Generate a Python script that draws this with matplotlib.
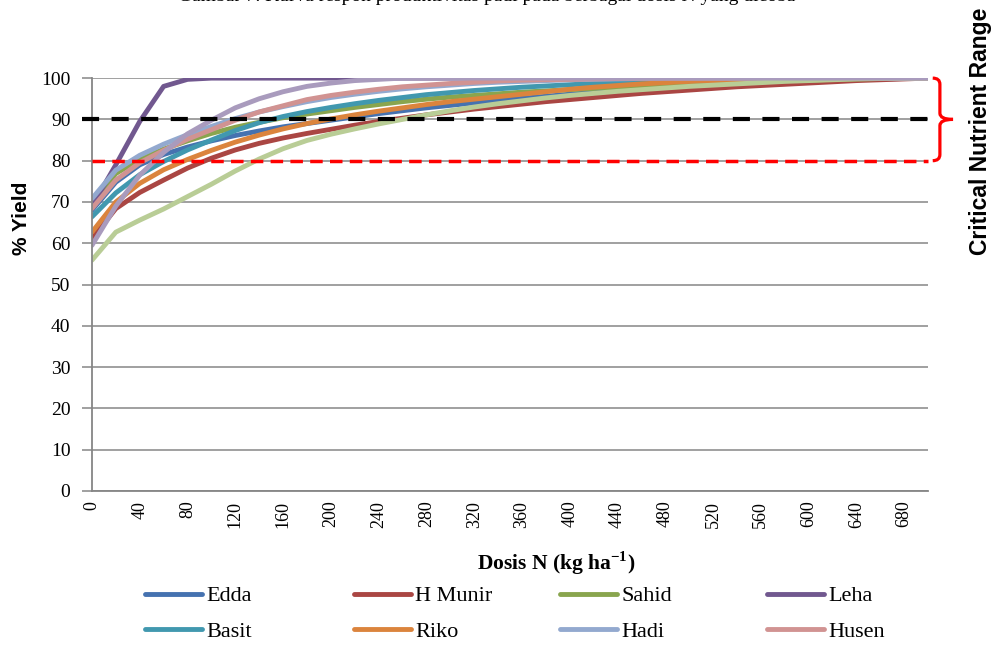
import numpy as np
import matplotlib.pyplot as plt
from matplotlib.path import Path
from matplotlib.patches import PathPatch

# dosis N (kg/ha), category axis every 20
dosis = np.arange(0, 701, 20)

edda = [68.0, 74.8, 79.0, 81.5, 83.3, 84.8, 86.1, 87.2, 88.2, 89.0, 89.8, 90.6,
        91.4, 92.1, 92.8, 93.4, 94.0, 94.6, 95.1, 95.6, 96.1, 96.5, 96.9, 97.3,
        97.6, 97.9, 98.2, 98.5, 98.8, 99.0, 99.3, 99.5, 99.7, 99.8, 99.9, 100]
h_munir = [61.1, 68.4, 72.3, 75.3, 78.2, 80.6, 82.6, 84.2, 85.5, 86.6, 87.6, 88.6,
           89.5, 90.3, 91.1, 91.8, 92.5, 93.1, 93.7, 94.3, 94.8, 95.3, 95.8, 96.3,
           96.7, 97.1, 97.5, 97.9, 98.2, 98.5, 98.8, 99.1, 99.4, 99.6, 99.8, 100]
sahid = [69.5, 76.9, 80.3, 82.8, 84.8, 86.6, 88.1, 89.3, 90.4, 91.3, 92.1, 92.9,
         93.6, 94.3, 94.9, 95.4, 95.8, 96.2, 96.6, 96.9, 97.2, 97.5, 97.8, 98.1,
         98.3, 98.5, 98.8, 99.0, 99.2, 99.4, 99.5, 99.7, 99.8, 99.9, 100, 100]
leha = [69.0, 79.0, 89.5, 98.0, 99.7] + [100] * 31
basit = [66.4, 72.2, 76.6, 79.8, 82.6, 85.0, 87.3, 89.2, 90.7, 91.9, 92.9, 93.8,
         94.6, 95.3, 96.0, 96.5, 97.0, 97.4, 97.8, 98.1, 98.4, 98.7, 99.0, 99.2,
         99.4, 99.5, 99.6, 99.7, 99.8, 99.9] + [100] * 6
riko = [62.7, 70.0, 74.5, 77.8, 80.3, 82.5, 84.5, 86.2, 87.7, 89.0, 90.1, 91.1,
        92.0, 92.8, 93.6, 94.3, 94.9, 95.5, 96.1, 96.7, 97.3, 97.8, 98.2, 98.6,
        98.9, 99.2, 99.4, 99.6, 99.7, 99.8, 99.9] + [100] * 5
hadi = [70.8, 77.7, 81.3, 84.0, 86.3, 88.3, 90.2, 91.8, 93.1, 94.3, 95.3, 96.1,
        96.8, 97.4, 97.9, 98.3, 98.7, 99.0, 99.2, 99.4, 99.6, 99.7, 99.8, 99.9] + [100] * 12
husen = [68.4, 75.3, 79.5, 82.5, 85.2, 87.5, 89.8, 91.8, 93.3, 94.8, 95.8, 96.6,
         97.3, 97.9, 98.3, 98.7, 99.0, 99.3, 99.5, 99.6, 99.7, 99.8, 99.9] + [100] * 13
seri9 = [55.9, 62.7, 65.6, 68.3, 71.3, 74.3, 77.5, 80.4, 82.9, 84.9, 86.4, 87.7,
         88.9, 90.0, 91.1, 92.1, 93.0, 93.8, 94.5, 95.2, 95.8, 96.3, 96.8, 97.2,
         97.6, 98.0, 98.3, 98.6, 98.9, 99.2, 99.4, 99.6, 99.8, 99.9, 100, 100]
seri10 = [59.5, 69.0, 76.5, 82.0, 86.5, 89.8, 92.8, 95.0, 96.7, 98.0, 98.8, 99.4,
          99.7] + [100] * 23

names = ['Edda', 'H Munir', 'Sahid', 'Leha', 'Basit', 'Riko', 'Hadi', 'Husen', None, None]
series = [edda, h_munir, sahid, leha, basit, riko, hadi, husen, seri9, seri10]
colors = ['#4572B0', '#AA4643', '#89A54E', '#71588F', '#4198AF', '#DB843D',
          '#93A9CF', '#D19392', '#B9CD96', '#A99BBD']

batas_atas = 90   # garis hitam
batas_bawah = 80  # garis merah
yield_max = 100

plt.rcParams['mathtext.fontset'] = 'custom'
plt.rcParams['mathtext.rm'] = 'Liberation Serif'
plt.rcParams['mathtext.bf'] = 'Liberation Serif:bold'

fig = plt.figure(figsize=(9.93, 6.51), dpi=100)
ax = fig.add_axes([0.0926, 0.2458, 0.8419, 0.6342])

grid_c = '#868686'
for v in range(0, 101, 10):
    ax.axhline(v, color=grid_c, lw=1.1, zorder=1)

handles = []
for s, c, n in zip(series, colors, names):
    ln, = ax.plot(dosis, s, color=c, lw=3.5, solid_capstyle='round',
                  solid_joinstyle='round', zorder=2)
    if n is not None:
        handles.append((ln, n))

ax.plot([-8, 700], [batas_atas, batas_atas], color='black', lw=3.0,
        dashes=(4.1, 3.0), clip_on=False, zorder=4)
ax.plot([0, 700], [batas_bawah, batas_bawah], color='#FF0000', lw=2.5,
        dashes=(3.6, 2.1), clip_on=False, zorder=4)

ax.set_xlim(0, 700)
ax.set_ylim(0, 100)
ax.set_yticks(range(0, 101, 10))
ax.set_xticks(np.arange(0, 681, 40))
ax.set_xticklabels([str(v) for v in np.arange(0, 681, 40)], rotation=90,
                   family='Liberation Serif', fontsize=13)
ax.set_yticklabels([str(v) for v in range(0, 101, 10)],
                   family='Liberation Serif', fontsize=14)
ax.tick_params(axis='y', length=7.5, width=1.1, color=grid_c, pad=8)
ax.tick_params(axis='x', length=0, pad=7)
for sp in ['top', 'right']:
    ax.spines[sp].set_visible(False)
for sp in ['left', 'bottom']:
    ax.spines[sp].set_color(grid_c)
    ax.spines[sp].set_linewidth(1.3)

# kurung kurawal merah (critical nutrient range)
x0, x1, x2 = 704, 710, 721
verts = [(x0, yield_max), (x1, yield_max), (x1, yield_max - 1.5),
         (x1, batas_atas + 1.5), (x1, batas_atas), (x2, batas_atas),
         (x1, batas_atas), (x1, batas_atas - 1.5),
         (x1, batas_bawah + 1.5), (x1, batas_bawah), (x0, batas_bawah)]
codes = [Path.MOVETO, Path.CURVE3, Path.CURVE3, Path.LINETO, Path.CURVE3, Path.CURVE3,
         Path.CURVE3, Path.CURVE3, Path.LINETO, Path.CURVE3, Path.CURVE3]
ax.add_patch(PathPatch(Path(verts, codes), fill=False, ec='#FF0000', lw=2.3,
                       clip_on=False, zorder=5))

fig.text(0.987, 0.799, 'Critical Nutrient Range', rotation=90, ha='center', va='center',
         family='Liberation Sans', fontweight='bold', fontsize=16.5)
fig.text(0.022, 0.665, '% Yield', rotation=90, ha='center', va='center',
         family='Liberation Sans', fontweight='bold', fontsize=15)
fig.text(0.56, 0.135, r'Dosis N (kg ha$^{\mathbf{-1}}$)', ha='center', va='center',
         family='Liberation Serif', fontweight='bold', fontsize=15.5)
fig.text(0.49, 0.9985, 'Gambar 7. Kurva respon produktivitas padi pada berbagai dosis N yang dicoba',
         ha='center', va='baseline', family='Liberation Serif', fontsize=14)

# legenda 4 kolom
col_x = [145, 354, 560, 767]
for i, x in enumerate(col_x):
    hs = [handles[i][0], handles[i + 4][0]]
    ls = [handles[i][1], handles[i + 4][1]]
    leg = fig.legend(hs, ls, loc='center left', bbox_to_anchor=(x / 993, 1 - 614 / 651),
                     frameon=False, borderpad=0, borderaxespad=0, handlelength=2.55,
                     handletextpad=0.2, labelspacing=0.68,
                     prop={'family': 'Liberation Serif', 'size': 16})
    for lh in leg.get_lines():
        lh.set_linewidth(3.5)
        lh.set_solid_capstyle('round')

fig.savefig('out.png', dpi=100)
